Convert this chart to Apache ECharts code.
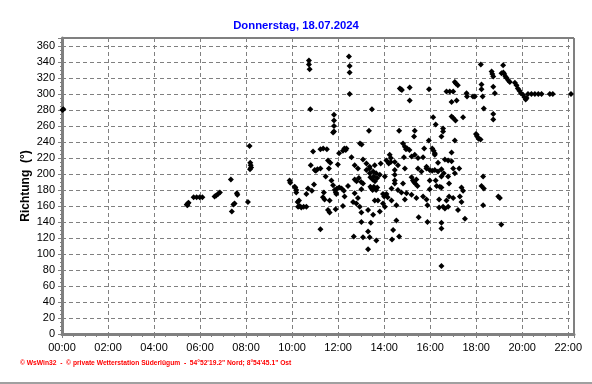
<!DOCTYPE html>
<html>
<head>
<meta charset="utf-8">
<script src="https://cdn.jsdelivr.net/npm/echarts@6/dist/echarts.min.js"></script>
<style>
html,body{margin:0;padding:0;background:#fff;}
#chart{width:592px;height:384px;}
</style>
</head>
<body>
<div id="chart"></div>
<script>
const titleText = 'Donnerstag, 18.07.2024';
const yAxisName = 'Richtung  (°)';
const footerText = '© WsWin32  -  © private Wetterstation Süderlügum  -  54°52\'19.2" Nord; 8°54\'45.1" Ost';
const xTicks = [0, 2, 4, 6, 8, 10, 12, 14, 16, 18, 20, 22];
const yTicks = [0, 20, 40, 60, 80, 100, 120, 140, 160, 180, 200, 220, 240, 260, 280, 300, 320, 340, 360];

// time of day in hours
const times = [
0.02,0.06,5.42,5.45,5.47,5.5,5.72,5.85,5.98,6.1,6.63,6.7,6.78,6.86,7.34,7.38,7.45,7.5,7.6,7.62,
8.08,8.15,8.17,8.18,8.2,8.22,9.89,9.92,10.11,10.14,10.18,10.18,10.24,10.26,10.3,10.33,10.4,10.5,10.62,10.62,
10.69,10.73,10.73,10.76,10.79,10.81,10.86,10.91,10.95,10.98,11.03,11.1,11.23,11.23,11.23,11.34,11.35,11.38,11.41,11.46,
11.51,11.56,11.56,11.6,11.63,11.63,11.66,11.71,11.78,11.78,11.82,11.82,11.82,11.82,11.85,11.89,11.9,11.92,11.95,11.99,
12.04,12.05,12.15,12.21,12.21,12.25,12.27,12.28,12.33,12.36,12.43,12.47,12.5,12.5,12.5,12.58,12.65,12.68,12.72,12.72,
12.72,12.79,12.8,12.86,12.86,12.9,12.94,12.95,13.0,13.01,13.01,13.01,13.02,13.08,13.08,13.08,13.23,13.23,13.3,13.3,
13.3,13.34,13.37,13.37,13.37,13.37,13.4,13.4,13.42,13.45,13.47,13.5,13.5,13.52,13.52,13.55,13.55,13.59,13.59,13.6,
13.6,13.65,13.65,13.66,13.7,13.7,13.73,13.81,13.81,13.85,13.95,13.95,14.0,14.03,14.03,14.1,14.1,14.15,14.2,14.24,
14.29,14.29,14.32,14.32,14.34,14.39,14.46,14.46,14.46,14.46,14.46,14.53,14.53,14.6,14.6,14.65,14.65,14.68,14.73,14.75,
14.77,14.82,14.82,14.86,14.9,14.9,14.9,14.95,14.97,15.0,15.1,15.11,15.11,15.19,15.19,15.19,15.25,15.3,15.3,15.33,
15.33,15.35,15.4,15.4,15.45,15.47,15.47,15.5,15.62,15.69,15.69,15.74,15.84,15.84,15.84,15.88,15.88,15.94,15.95,15.98,
15.98,15.98,16.09,16.09,16.13,16.15,16.2,16.2,16.2,16.24,16.24,16.28,16.34,16.34,16.39,16.39,16.42,16.49,16.49,16.49,
16.49,16.49,16.49,16.49,16.56,16.56,16.56,16.59,16.64,16.64,16.71,16.71,16.78,16.78,16.78,16.82,16.82,16.85,16.93,16.93,
16.93,16.93,17.0,17.0,17.0,17.0,17.07,17.07,17.07,17.1,17.12,17.15,17.2,17.21,17.26,17.29,17.36,17.36,17.43,17.43,
17.51,17.58,17.6,17.86,17.94,17.99,18.02,18.04,18.1,18.19,18.2,18.23,18.23,18.23,18.28,18.3,18.3,18.33,18.33,18.67,
18.7,18.74,18.74,18.74,18.74,18.81,18.96,19.03,19.09,19.1,19.17,19.18,19.22,19.27,19.32,19.4,19.46,19.68,19.75,19.81,
19.88,19.95,20.03,20.1,20.15,20.19,20.25,20.4,20.55,20.7,20.84,21.2,21.33,22.12
];
// wind direction in degrees
const dirs = [
280,281,162,161,163,164,171,171,171,171,172,173,175,177,193,153,162,163,176,174,
165,235,206,214,211,208,192,189,184,183,177,180,165,159,167,160,158,159,159,175,
182,342,337,331,281,211,179,228,187,205,204,206,207,231,131,171,232,177,168,197,
231,217,155,207,167,152,214,192,186,252,253,260,267,274,180,156,177,175,182,212,
226,183,182,229,160,179,232,172,230,232,185,347,335,327,300,221,165,122,211,193,
176,163,191,207,170,195,159,238,190,181,152,140,237,218,188,121,213,205,155,128,
106,254,209,207,201,121,196,184,139,182,281,193,180,203,149,197,184,211,167,191,
182,201,180,117,195,183,167,199,153,213,175,163,172,197,159,217,175,171,213,224,
220,215,182,167,118,130,215,205,199,192,188,161,142,211,180,254,122,307,306,177,
305,238,188,221,234,207,168,231,176,232,230,308,292,222,196,174,192,247,190,254,
224,188,193,170,185,220,207,146,203,221,172,232,209,207,168,161,140,242,306,205,
192,181,232,204,271,229,226,224,205,262,192,185,214,203,168,158,184,247,206,197,
183,139,132,85,257,253,159,201,218,157,303,167,217,197,159,188,172,303,272,290,
227,216,270,303,207,170,242,315,201,267,313,292,311,155,207,172,183,165,271,179,
144,301,297,297,297,250,249,247,244,243,337,312,306,185,297,197,161,282,182,328,
325,322,309,275,268,301,172,170,137,326,336,327,325,322,320,317,315,314,311,307,
304,301,299,296,293,295,300,300,300,300,300,300,300,300
];

const points = times.map((t, i) => [t, dirs[i]]);
const pad = n => (n < 10 ? '0' : '') + n;

const chart = echarts.init(document.getElementById('chart'), null, {renderer: 'canvas'});
chart.setOption({
  backgroundColor: '#ffffff',
  animation: false,
  title: {
    text: titleText,
    left: 'center',
    top: 15,
    textStyle: {color: '#0000ff', fontSize: 11.3, fontWeight: 'bold', fontFamily: 'Liberation Sans, Arial, sans-serif'}
  },
  grid: {
    left: 62, right: 18, top: 38, bottom: 50,
    show: true, borderColor: '#000000', borderWidth: 1, backgroundColor: 'transparent'
  },
  xAxis: {
    type: 'value',
    min: 0, max: 22.25, interval: 2,
    axisLine: {show: true, onZero: false, lineStyle: {color: '#808080', width: 3}},
    axisTick: {show: true, length: 4, lineStyle: {color: '#808080'}},
    minorTick: {show: true, splitNumber: 4, length: 3, lineStyle: {color: '#808080'}},
    splitLine: {show: true, lineStyle: {color: '#808080', type: [4, 3], width: 1}},
    axisLabel: {
      color: '#000', fontSize: 11, margin: 8, fontFamily: 'Liberation Sans, Arial, sans-serif',
      formatter: v => (xTicks.indexOf(v) >= 0 ? pad(v) + ':00' : '')
    }
  },
  yAxis: {
    type: 'value',
    min: 0, max: 370, interval: 20,
    name: yAxisName,
    nameLocation: 'middle',
    nameGap: 30,
    nameMoveOverlap: false,
    nameTextStyle: {color: '#000', fontSize: 12, fontWeight: 'bold', fontFamily: 'Liberation Sans, Arial, sans-serif'},
    axisLine: {show: true, onZero: false, lineStyle: {color: '#808080', width: 3}},
    axisTick: {show: true, length: 4, lineStyle: {color: '#808080'}},
    minorTick: {show: true, splitNumber: 4, length: 2, lineStyle: {color: '#808080'}},
    splitLine: {show: true, lineStyle: {color: '#808080', type: [4, 3], width: 1}},
    axisLabel: {
      color: '#000', fontSize: 11, margin: 7, fontFamily: 'Liberation Sans, Arial, sans-serif',
      formatter: v => (yTicks.indexOf(v) >= 0 ? String(v) : '')
    }
  },
  series: [{
    type: 'scatter',
    data: points,
    symbol: 'diamond',
    symbolSize: 6,
    itemStyle: {color: '#000000', opacity: 1},
    clip: false
  }],
  graphic: [
    {
      type: 'text', left: 20, top: 360,
      style: {text: footerText, fill: '#ff0000', font: 'bold 6.7px "Liberation Sans", Arial, sans-serif'}
    },
    {
      type: 'rect', shape: {x: 0, y: 382, width: 592, height: 2},
      style: {fill: '#a0a0a0'}
    }
  ]
});
</script>
</body>
</html>
